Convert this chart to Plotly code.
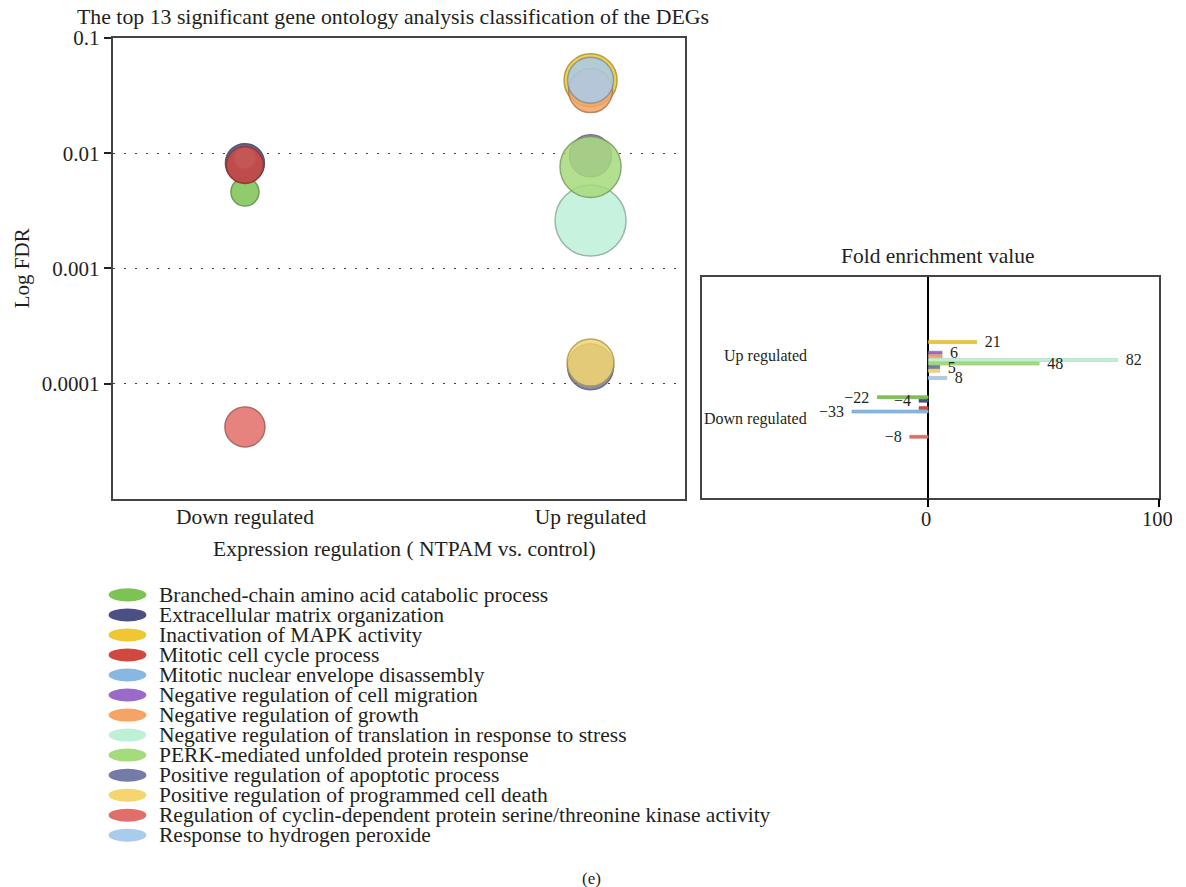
import plotly.graph_objects as go

# ---------------- data ----------------
terms = [
    "Branched-chain amino acid catabolic process",
    "Extracellular matrix organization",
    "Inactivation of MAPK activity",
    "Mitotic cell cycle process",
    "Mitotic nuclear envelope disassembly",
    "Negative regulation of cell migration",
    "Negative regulation of growth",
    "Negative regulation of translation in response to stress",
    "PERK-mediated unfolded protein response",
    "Positive regulation of apoptotic process",
    "Positive regulation of programmed cell death",
    "Regulation of cyclin-dependent protein serine/threonine kinase activity",
    "Response to hydrogen peroxide",
]
regulation = [
    "Down regulated", "Down regulated", "Up regulated", "Down regulated",
    "Down regulated", "Up regulated", "Up regulated", "Up regulated",
    "Up regulated", "Up regulated", "Up regulated", "Down regulated",
    "Up regulated",
]
fdr = [0.0046, 0.0082, 0.043, 0.0079, 0.0091, 0.0095, 0.035, 0.0026,
       0.0076, 0.00014, 0.000152, 0.000042, 0.043]
bubble_value = [28, 39, 53, 37, 22, 42, 44, 71, 61, 46, 47, 40, 46]
fold = [-22, -4, 21, -4, -33, 6, 6, 82, 48, 5, 5, -8, 8]
label_shown = [True, True, True, False, True, True, False, True, True,
               True, False, True, True]
categories_bubble = ["Down regulated", "Up regulated"]
categories_bar = ["Up regulated", "Down regulated"]
fdr_ticks = [0.1, 0.01, 0.001, 0.0001]
fdr_tick_text = ["0.1", "0.01", "0.001", "0.0001"]
fold_ticks = [0, 100]

colors = ["#7DC353", "#4A4F86", "#EEC733", "#D0483F", "#88B7E2", "#9A6ACB",
          "#F5A466", "#BEF0D8", "#A5DB7C", "#737BA6", "#F4D56E", "#E26E69",
          "#A9CCEC"]

FONT = "Liberation Serif"
TXT = "#231F20"
W, H = 1186, 887
SX, OY, SY = 0.993, 12.0, 0.985   # measured page scaling of the photo


def dark(hexc, f=0.72):
    r, g, b = int(hexc[1:3], 16), int(hexc[3:5], 16), int(hexc[5:7], 16)
    return "rgb(%d,%d,%d)" % (r * f, g * f, b * f)


# picture pixel -> paper fraction
def px(xp):
    return (xp / SX) / W


def py(yp):
    return 1 - ((yp - OY) / SY) / H


fig = go.Figure()

# bubbles (Mitotic nuclear envelope drawn beneath Mitotic cell cycle)
draw_order = [0, 1, 2, 4, 3, 5, 6, 7, 8, 9, 10, 11, 12]
for i in draw_order:
    fig.add_trace(go.Scatter(
        x=[regulation[i]], y=[fdr[i]], mode="markers", name=terms[i],
        marker=dict(size=bubble_value[i], sizemode="diameter", sizeref=SX,
                    color=colors[i], opacity=0.85,
                    line=dict(color=dark(colors[i]), width=1.5)),
        xaxis="x", yaxis="y", showlegend=False,
    ))

# bars
for i in range(13):
    v = fold[i]
    if label_shown[i]:
        lab = ("\u2002" + str(v)) if v > 0 else ("\u2212" + str(abs(v)) + "\u2002")
    else:
        lab = ""
    fig.add_trace(go.Bar(
        y=[regulation[i]], x=[v], orientation="h", name=terms[i],
        marker=dict(color=colors[i], line=dict(color=dark(colors[i], 0.85), width=0.5)),
        text=[lab], textposition="outside", cliponaxis=False,
        constraintext="none",
        textfont=dict(family=FONT, size=16, color=TXT),
        xaxis="x2", yaxis="y2", showlegend=False,
    ))

annotations = [
    dict(text="The top 13 significant gene ontology analysis classification of the DEGs",
         x=px(75), y=py(17), xanchor="left", yanchor="middle", font=dict(size=21.8)),
    dict(text="Log FDR", x=px(22), y=py(268), textangle=-90, font=dict(size=21)),
    dict(text="Expression regulation ( NTPAM vs. control)", x=px(406), y=py(548),
         font=dict(size=21.5)),
    dict(text="Fold enrichment value", x=px(941), y=py(256), font=dict(size=21.5)),
    dict(text="(e)", x=px(594), y=py(877), font=dict(size=17)),
    dict(text="Up regulated", xref="x2", yref="y2", x=-51.7, y=0, xanchor="right",
         font=dict(size=16)),
    dict(text="Down regulated", xref="x2", yref="y2", x=-51.7, y=1, xanchor="right",
         font=dict(size=16)),
]
shapes = [dict(type="rect", xref="paper", yref="paper", x0=0, x1=1, y0=0, y1=1,
               line=dict(color="#ffffff", width=1))]
for i, t in enumerate(terms):
    cy = 594 + 20 * i
    shapes.append(dict(type="circle", xref="paper", yref="paper",
                       x0=px(109), x1=px(147), y0=py(cy + 6.5), y1=py(cy - 6.5),
                       fillcolor=colors[i], line=dict(width=0)))
    annotations.append(dict(text=t, x=px(158), y=py(cy), xanchor="left",
                            yanchor="middle", font=dict(size=21.5)))
for a in annotations:
    a.setdefault("xref", "paper")
    a.setdefault("yref", "paper")
    a.setdefault("showarrow", False)
    a.setdefault("xanchor", "center")
    a.setdefault("yanchor", "middle")
    a["font"] = dict(family=FONT, color=TXT, size=a["font"]["size"])

fig.update_layout(
    width=W, height=H, margin=dict(l=0, r=0, t=0, b=0),
    paper_bgcolor="white", plot_bgcolor="white",
    font=dict(family=FONT, color=TXT),
    barmode="group", bargap=0.25, bargroupgap=0.15,
    xaxis=dict(domain=[px(113), px(688)], anchor="y", type="category",
               categoryorder="array", categoryarray=categories_bubble,
               range=[-0.383, 1.274], showline=True, mirror=True,
               linecolor="#444", linewidth=1.5, showgrid=False,
               ticks="", ticklabelstandoff=-2,
               tickfont=dict(size=21.5, family=FONT, color=TXT)),
    yaxis=dict(domain=[py(498), py(38)], anchor="x", type="log",
               range=[-5, -1], tickvals=fdr_ticks, ticktext=fdr_tick_text,
               showline=True, mirror=True, linecolor="#444", linewidth=1.5,
               ticks="outside", ticklen=7, tickwidth=2, tickcolor="#222",
               showgrid=True, gridcolor="#444", gridwidth=1.3, griddash="2px,9px",
               zeroline=False,
               tickfont=dict(size=21, family=FONT, color=TXT)),
    xaxis2=dict(domain=[px(705), px(1164)], anchor="y2", range=[-97.8, 100],
                tickvals=fold_ticks, showline=True, mirror=True,
                linecolor="#444", linewidth=1.5, showgrid=False,
                zeroline=True, zerolinecolor="black", zerolinewidth=2,
                ticks="outside", ticklen=8, tickwidth=2, tickcolor="black",
                ticklabelstandoff=-6, ticklabelshift=-2,
                tickfont=dict(size=20.5, family=FONT, color=TXT)),
    yaxis2=dict(domain=[py(497), py(277)], anchor="x2", type="category",
                categoryorder="array", categoryarray=categories_bar,
                range=[2.264, -1.264], showline=True, mirror=True,
                linecolor="#444", linewidth=1.5, showgrid=False,
                showticklabels=False, ticks=""),
    annotations=annotations, shapes=shapes,
)

fig.write_html(
    "out.html",
    config={"displayModeBar": False, "responsive": False},
    post_script="document.documentElement.style.margin='0';document.body.style.margin='0';document.body.style.padding='0';",
)
